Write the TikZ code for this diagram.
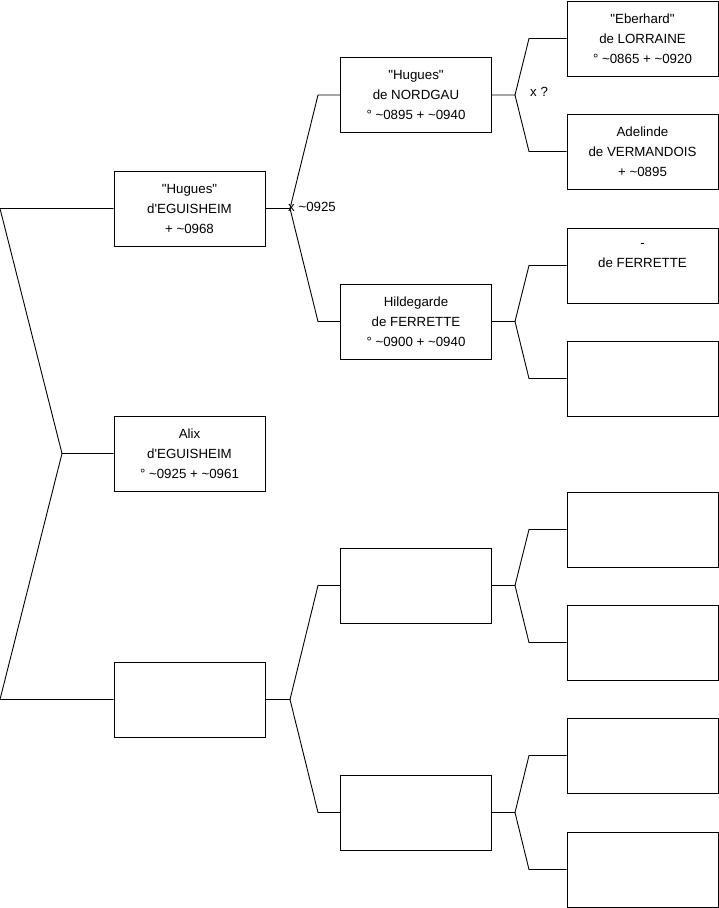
\documentclass[tikz,border=0pt]{standalone}
\usepackage{fontspec}
\setmainfont{Liberation Sans}
\begin{document}
\begin{tikzpicture}[x=1pt,y=-1pt,
  person/.style={draw, line width=0.9pt, minimum width=151pt, minimum height=75pt, inner sep=0pt, align=center, font=\fontsize{13.3}{20}\selectfont},
  link/.style={line width=0.9pt},
  marr/.style={inner sep=0pt, anchor=west, font=\fontsize{13.3}{16}\selectfont}]
\useasboundingbox (0,0) rectangle (719,908);
% generation 1
\node[person] (g1) at (189.5,453.5) {Alix\\d\textquotesingle EGUISHEIM\\° \textasciitilde0925 + \textasciitilde0961};
% generation 2
\node[person] (g2a) at (189.5,208.5) {\textquotedbl Hugues\textquotedbl\\d\textquotesingle EGUISHEIM\\+ \textasciitilde0968};
\node[person] (g2b) at (189.5,699.5) {};
% generation 3
\node[person] (g3a) at (416,95) {\textquotedbl Hugues\textquotedbl\\de NORDGAU\\° \textasciitilde0895 + \textasciitilde0940};
\node[person] (g3b) at (416,321.5) {Hildegarde\\de FERRETTE\\° \textasciitilde0900 + \textasciitilde0940};
\node[person] (g3c) at (416,585.5) {};
\node[person] (g3d) at (416,812.5) {};
% generation 4
\node[person] (g4a) at (642.5,38.5) {\textquotedbl Eberhard\textquotedbl\\de LORRAINE\\° \textasciitilde0865 + \textasciitilde0920};
\node[person] (g4b) at (642.5,151.5) {Adelinde\\de VERMANDOIS\\+ \textasciitilde0895};
\node[person] (g4c) at (642.5,265.5) {-\\de FERRETTE\\\mbox{}};
\node[person] (g4d) at (642.5,378.5) {};
\node[person] (g4e) at (642.5,529.5) {};
\node[person] (g4f) at (642.5,642.5) {};
\node[person] (g4g) at (642.5,755.5) {};
\node[person] (g4h) at (642.5,869.5) {};
% fork for generation 1
\coordinate (f1) at (62,453.5);
\coordinate (f1u) at (0,208.5);
\coordinate (f1d) at (0,699.5);
\draw[link] (g1.west) -- (f1) -- (f1u) -- (g2a.west);
\draw[link] (f1) -- (f1d) -- (g2b.west);
% forks for generation 2
\coordinate (f2a) at (290,208.5);
\coordinate (f2au) at (318,95);
\coordinate (f2ad) at (318,321.5);
\draw[link] (g2a.east) -- (f2a) -- (f2au) -- (g3a.west);
\draw[link] (f2a) -- (f2ad) -- (g3b.west);
\coordinate (f2b) at (290,699.5);
\coordinate (f2bu) at (318,585.5);
\coordinate (f2bd) at (318,812.5);
\draw[link] (g2b.east) -- (f2b) -- (f2bu) -- (g3c.west);
\draw[link] (f2b) -- (f2bd) -- (g3d.west);
% forks for generation 3
\coordinate (f3a) at (515,95);
\coordinate (f3au) at (529,38.5);
\coordinate (f3ad) at (529,151.5);
\draw[link] (g3a.east) -- (f3a) -- (f3au) -- (g4a.west);
\draw[link] (f3a) -- (f3ad) -- (g4b.west);
\coordinate (f3b) at (515,321.5);
\coordinate (f3bu) at (529,265.5);
\coordinate (f3bd) at (529,378.5);
\draw[link] (g3b.east) -- (f3b) -- (f3bu) -- (g4c.west);
\draw[link] (f3b) -- (f3bd) -- (g4d.west);
\coordinate (f3c) at (515,585.5);
\coordinate (f3cu) at (529,529.5);
\coordinate (f3cd) at (529,642.5);
\draw[link] (g3c.east) -- (f3c) -- (f3cu) -- (g4e.west);
\draw[link] (f3c) -- (f3cd) -- (g4f.west);
\coordinate (f3d) at (515,812.5);
\coordinate (f3du) at (529,755.5);
\coordinate (f3dd) at (529,869.5);
\draw[link] (g3d.east) -- (f3d) -- (f3du) -- (g4g.west);
\draw[link] (f3d) -- (f3dd) -- (g4h.west);
% marriage labels
\node[marr] (m1) at (288,207) {x \textasciitilde0925};
\node[marr] (m2) at (530,92) {x ?};
\end{tikzpicture}
\end{document}
